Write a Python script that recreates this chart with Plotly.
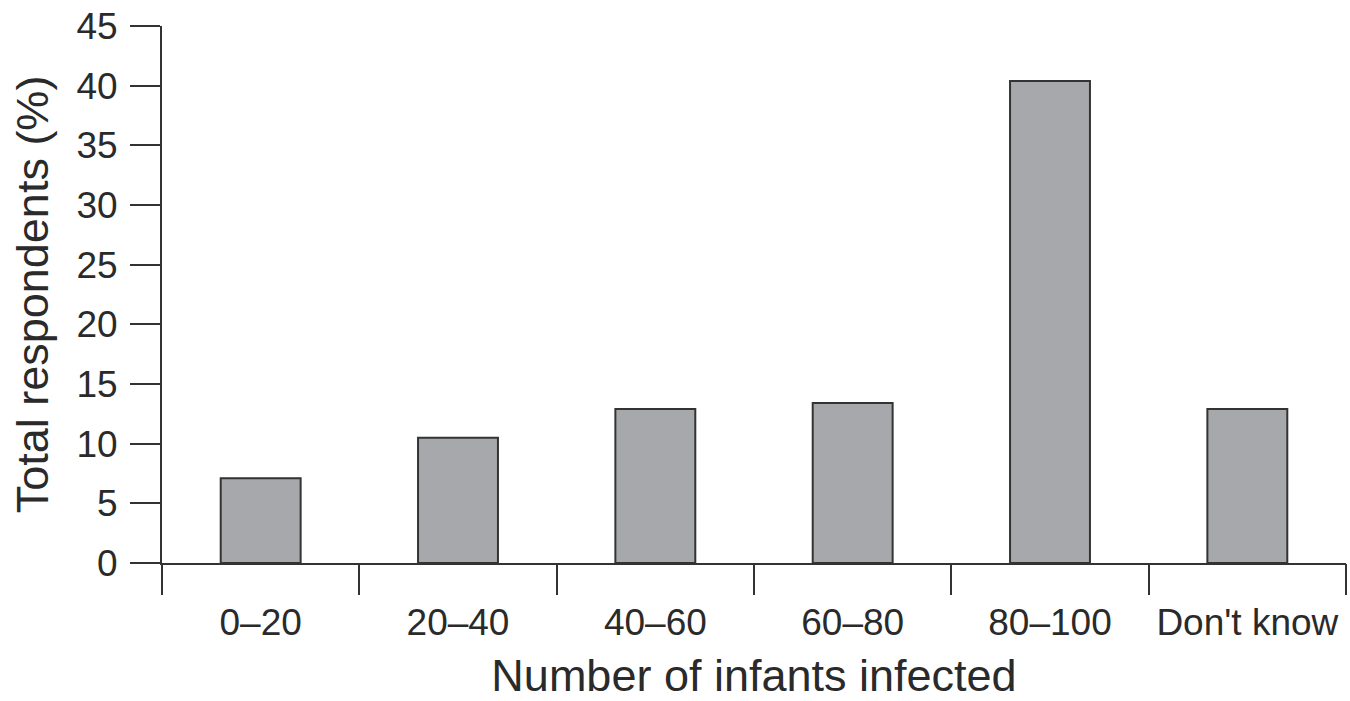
import plotly.graph_objects as go

categories = ["0–20", "20–40", "40–60", "60–80", "80–100", "Don't know"]
values = [7.1, 10.5, 12.9, 13.4, 40.4, 12.9]
y_ticks = [0, 5, 10, 15, 20, 25, 30, 35, 40, 45]

x_title = "Number of infants infected"
y_title = "Total respondents (%)"

FONT = "Liberation Sans, Arial, sans-serif"
INK = "#2a2a2a"

n = len(categories)
boundaries = [i - 0.5 for i in range(n + 1)]

fig = go.Figure()
fig.add_trace(
    go.Bar(
        x=categories,
        y=values,
        width=0.405,
        marker=dict(color="#a7a8ab", line=dict(color="#333333", width=2)),
        hoverinfo="x+y",
    )
)
# invisible helper trace so the boundary-tick axis (x2) is drawn
fig.add_trace(
    go.Scatter(
        x=boundaries,
        y=[0] * len(boundaries),
        xaxis="x2",
        yaxis="y",
        mode="markers",
        marker=dict(opacity=0, size=1),
        hoverinfo="skip",
        showlegend=False,
    )
)

fig.update_layout(
    width=1350,
    height=701,
    margin=dict(l=162, r=4, t=26, b=138),
    paper_bgcolor="white",
    plot_bgcolor="white",
    showlegend=False,
    font=dict(family=FONT, color=INK, size=37),
    xaxis=dict(
        type="category",
        range=[-0.5, n - 0.5],
        showline=True,
        linecolor="#333333",
        linewidth=2,
        ticks="outside",
        tickson="boundaries",
        ticklen=30,
        tickwidth=2,
        tickcolor="#333333",
        showgrid=False,
        zeroline=False,
        ticklabelstandoff=26,
        ticklabeloverflow="allow",
        tickfont=dict(size=37, family=FONT, color=INK),
        title=dict(text=x_title, font=dict(size=45, family=FONT, color=INK), standoff=28),
        automargin=False,
    ),
    xaxis2=dict(
        overlaying="x",
        anchor="y",
        side="bottom",
        type="linear",
        range=[-0.5, n - 0.5],
        tickvals=boundaries,
        ticks="outside",
        ticklen=30,
        tickwidth=2,
        tickcolor="#333333",
        showticklabels=False,
        showline=False,
        showgrid=False,
        zeroline=False,
        fixedrange=True,
        automargin=False,
    ),
    yaxis=dict(
        range=[0, 45],
        tickvals=y_ticks,
        showline=True,
        linecolor="#333333",
        linewidth=2,
        ticks="outside",
        ticklen=30,
        tickwidth=2,
        tickcolor="#333333",
        showgrid=False,
        zeroline=False,
        ticklabelstandoff=5,
        ticklabeloverflow="allow",
        tickfont=dict(size=37, family=FONT, color=INK),
        title=dict(text=y_title, font=dict(size=45, family=FONT, color=INK), standoff=14),
        automargin=False,
    ),
)

fig.write_html(
    "out.html",
    config={"displayModeBar": False},
    post_script="document.body.style.margin='0';document.body.style.overflow='hidden';",
)
